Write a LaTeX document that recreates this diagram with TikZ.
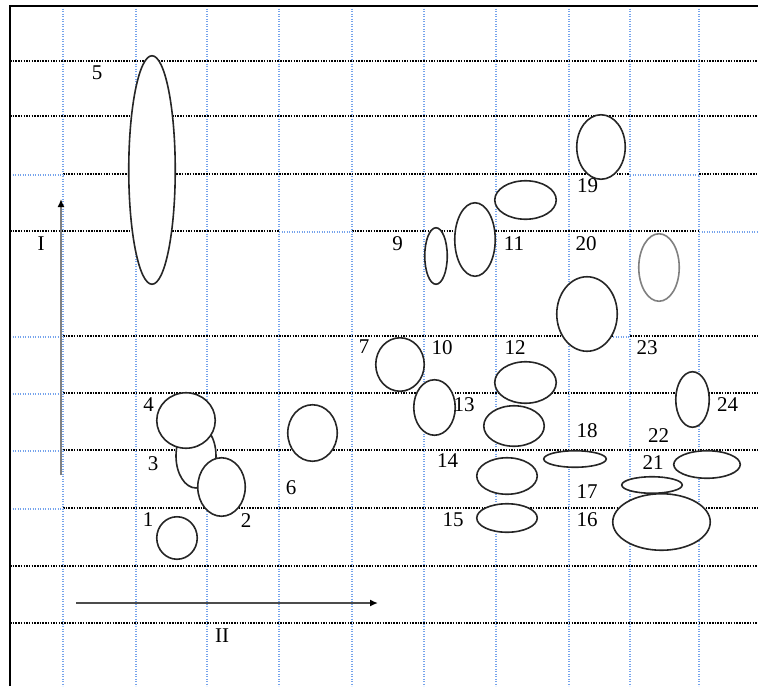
\documentclass[tikz,border=0pt]{standalone}
\usepackage{fontspec}
\setmainfont{Liberation Serif}
\usetikzlibrary{arrows.meta, shapes.geometric}
\definecolor{gridblue}{RGB}{118,164,236}
\tikzset{
  spot/.style={
    ellipse, inner sep=0pt,
    draw=black!85, fill=white, line width=1.6pt
  },
  numlabel/.style={font=\fontsize{21}{24}\selectfont, inner sep=0pt},
  bluerule/.style={gridblue, line width=1.3pt, dash pattern=on 1.3pt off 1.2pt},
  dotrule/.style={black, line width=1.5pt, dash pattern=on 1.5pt off 1.2pt},
  axisarrow/.style={-{Latex[length=8pt,width=7pt,color=black]}, line width=2.6pt, color=#1},
}

\begin{document}
\begin{tikzpicture}[x=1pt, y=-1pt]
  \useasboundingbox (0,0) rectangle (758,686);

  % grid
  \foreach \gx in {63,136,207,279,352,424,496,569,630,699}
    \draw[bluerule] (\gx,6) -- (\gx,686);
  \foreach \gy in {61,116,566,623}
    \draw[dotrule] (10,\gy) -- (758,\gy);
  \foreach \gy in {393,450,508} {
    \draw[dotrule] (63,\gy) -- (758,\gy);
    \draw[bluerule] (10,\gy+1) -- (63,\gy+1);
  }
  \draw[dotrule] (63,174) -- (630,174) (699,174) -- (758,174);
  \draw[bluerule] (10,175) -- (63,175) (630,175) -- (699,175);
  \draw[dotrule] (10,231) -- (279,231) (352,231) -- (699,231);
  \draw[bluerule] (279,232) -- (352,232) (699,232) -- (758,232);
  \draw[dotrule] (63,336) -- (613,336) (630,336) -- (758,336);
  \draw[bluerule] (10,337) -- (63,337) (613,337) -- (630,337);

  % frame
  \draw[line width=2.2pt] (10,686) -- (10,6) -- (758,6);

  % axes
  \coordinate (i0) at (61,475);
  \coordinate (i1) at (61,199);
  \coordinate (ii0) at (76,603);
  \coordinate (ii1) at (378,603);
  \draw[axisarrow=black!50] (i0) -- (i1);
  \draw[axisarrow=black!70] (ii0) -- (ii1);
  \node[numlabel] (axI)  at (41,243.5) {I};
  \node[numlabel] (axII) at (222,636)  {II};

  % spots
  \node[spot, minimum width=46.5pt, minimum height=228.5pt] (e5)  at (152,170)     {};
  \node[spot, minimum width=40pt,   minimum height=64pt]    (e3)  at (196,456)     {};
  \node[spot, minimum width=58.5pt, minimum height=55.5pt]  (e4)  at (186,420.5)   {};
  \node[spot, minimum width=47.5pt, minimum height=58.5pt]  (e2)  at (221.5,487)   {};
  \node[spot, minimum width=40.5pt, minimum height=42.5pt]  (e1)  at (177,538)     {};
  \node[spot, minimum width=49.5pt, minimum height=56.5pt]  (e6)  at (312.5,433)   {};
  \node[spot, minimum width=48.5pt, minimum height=53.5pt]  (e7)  at (400,364.5)   {};
  \node[spot, minimum width=41.5pt, minimum height=55.5pt]  (e10) at (434.5,407.5) {};
  \node[spot, minimum width=22.5pt, minimum height=56.5pt]  (e9)  at (436,256)     {};
  \node[spot, minimum width=40.5pt, minimum height=73.5pt]  (e11) at (475,239.5)   {};
  \node[spot, minimum width=61.5pt, minimum height=38.5pt]  (e8)  at (525.5,200)   {};
  \node[spot, minimum width=48.5pt, minimum height=64.5pt]  (e19) at (601,147)     {};
  \node[spot, minimum width=60.5pt, minimum height=74.5pt]  (e20) at (587,314)     {};
  \node[spot, draw=black!50, minimum width=40.5pt, minimum height=67.5pt] (e23) at (659,267.5) {};
  \node[spot, minimum width=61.5pt, minimum height=41.5pt]  (e12) at (525.5,382.5) {};
  \node[spot, minimum width=60.5pt, minimum height=40.5pt]  (e13) at (514,426)     {};
  \node[spot, minimum width=60.5pt, minimum height=36.5pt]  (e14) at (507,476)     {};
  \node[spot, minimum width=60.5pt, minimum height=28.5pt]  (e15) at (507,518)     {};
  \node[spot, minimum width=62.5pt, minimum height=16.5pt]  (e18) at (575,459)     {};
  \node[spot, minimum width=97.5pt, minimum height=56.5pt]  (e16) at (661.5,522)   {};
  \node[spot, minimum width=60.5pt, minimum height=16.5pt]  (e21) at (652,485)     {};
  \node[spot, minimum width=66.5pt, minimum height=27.5pt]  (e22) at (707,464.5)   {};
  \node[spot, minimum width=33.5pt, minimum height=55.5pt]  (e24) at (692.5,399.5) {};

  % numbers
  \foreach \n/\px/\py in {5/97/73, 4/148.5/405, 3/153/463.5, 1/148/519.5, 2/246/520.5,
      6/291/487.5, 7/364/346.5, 10/442/347.5, 12/515/347.5, 23/647/347.5,
      13/464/405, 24/727.5/405, 18/587/430.5, 22/658.5/435.5, 14/447.5/461,
      21/653/462.5, 17/587/491.5, 15/453/519.5, 16/587/519.5, 9/397.5/243.5,
      11/514/243.5, 20/586/243.5, 19/587.5/185.5}
    \node[numlabel] (n\n) at (\px,\py) {\n};
\end{tikzpicture}
\end{document}
